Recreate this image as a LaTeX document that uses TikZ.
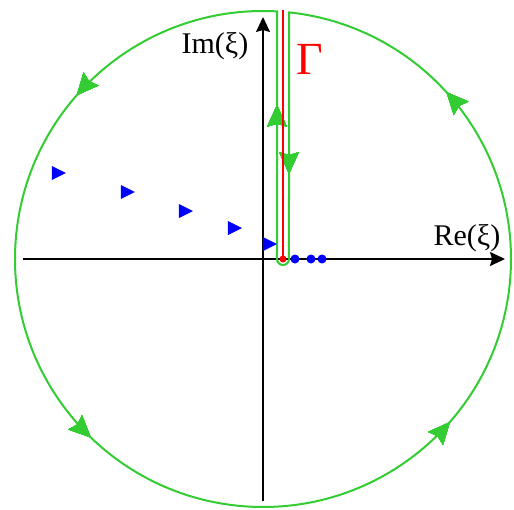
\documentclass[tikz,border=0pt]{standalone}
\usepackage{fontspec}
\setmainfont{Liberation Serif}
\usetikzlibrary{arrows.meta,decorations.markings}
\definecolor{contourgreen}{RGB}{51,204,51}

\begin{document}
\begin{tikzpicture}[x=1pt, y=1pt,
  axis/.style={draw=black, line width=1.6pt, -{Stealth[length=15pt,width=14pt,inset=2pt]}},
  contour/.style={draw=contourgreen, line width=2pt},
  flow/.style={postaction={decorate}, decoration={markings,
    mark=at position #1 with {\arrow[contourgreen, line width=0.5pt]{Stealth[length=22pt,width=20pt,inset=3pt]}}}},
  cut/.style={draw=red, line width=1.8pt},
  pole/.style={fill=blue},
  lbl/.style={inner sep=0pt, font=\fontsize{30}{34}\selectfont}]
\useasboundingbox (-263,-250) rectangle (251,259);
\coordinate (O) at (0,0);
\coordinate (branch) at (20,0);
% axes
\draw[axis] (-240,0) -- (242,0);
\draw[axis] (0,-242) -- (0,242);
\node[lbl] (im) at (-48,213) {Im(ξ)};
\node[lbl] (re) at (204,21) {Re(ξ)};
% keyhole contour, traversed counterclockwise
\draw[contour, flow=225pt, flow=603pt, flow=1005pt, flow=1366pt, flow=1708pt, flow=1966pt]
  (86.76:248) arc[start angle=86.76, end angle=443.98, radius=248]
  -- (26,0) arc[start angle=0, end angle=-180, radius=6] -- cycle;
% branch cut
\draw[cut] (branch) -- (20,249);
\fill[red] (branch) circle (3.5);
\node[inner sep=0pt, text=red, font=\fontsize{46}{50}\selectfont] (gamma) at (47,200) {Γ};
% poles
\foreach \x in {32,48,59}
  \fill[pole] (\x,0) circle (4.5);
\foreach \x/\y in {-211/86,-142/67,-84/48,-35/31,0/15}
  \fill[pole] (\x,\y-7) -- (\x+14,\y) -- (\x,\y+7) -- cycle;
\end{tikzpicture}
\end{document}
